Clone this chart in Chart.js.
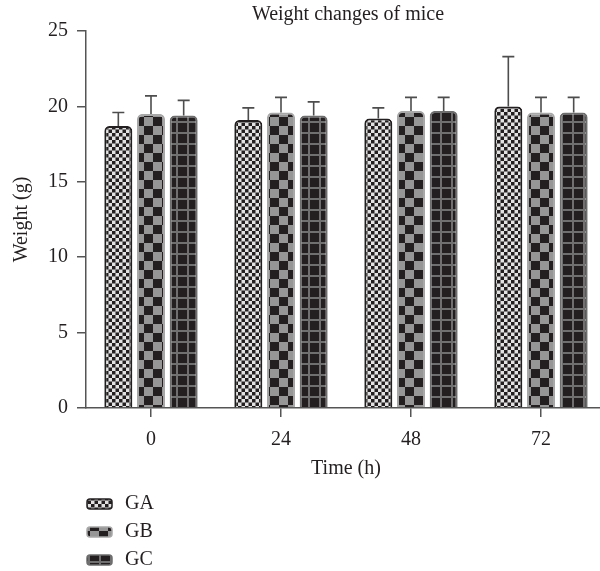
<!DOCTYPE html>
<html>
<head>
<meta charset="utf-8">
<title>Weight changes of mice</title>
<script src="https://cdn.jsdelivr.net/npm/chart.js@4/dist/chart.umd.min.js"></script>
<style>
  html, body { margin: 0; padding: 0; background: #fff; overflow: hidden; }
  /* the original plot is cut off at the right edge, so the canvas is a bit wider than the page */
  #wrap { width: 600px; height: 571px; overflow: hidden; }
</style>
</head>
<body>
<div id="wrap"><canvas id="weightChart" width="606" height="571"></canvas></div>
<script>
// values
var timeLabels = ['0', '24', '48', '72'];
var groupNames = ['GA', 'GB', 'GC'];
var gaMean = [18.7, 19.1, 19.2, 20.0];
var gbMean = [19.5, 19.6, 19.7, 19.6];
var gcMean = [19.4, 19.4, 19.7, 19.6];
// upper error (SD) on top of the mean
var gaErr = [0.9, 0.8, 0.7, 3.3];
var gbErr = [1.2, 1.0, 0.9, 1.0];
var gcErr = [1.0, 0.9, 0.9, 1.0];
var yTicks = [0, 5, 10, 15, 20, 25];

var FONT = '"Liberation Serif", "Times New Roman", serif';
var INK = '#231f20';

function makePattern(kind) {
    var c = document.createElement('canvas');
    var g = c.getContext('2d');
    if (kind === 'GA') {
        c.width = 7; c.height = 7;
        g.fillStyle = '#e2e2e2';
        g.fillRect(0, 0, 7, 7);
        g.fillStyle = INK;
        g.fillRect(0, 0, 3.5, 3.5);
        g.fillRect(3.5, 3.5, 3.5, 3.5);
    } else if (kind === 'GB') {
        c.width = 18; c.height = 18;
        g.fillStyle = '#969696';
        g.fillRect(0, 0, 18, 18);
        g.fillStyle = INK;
        g.fillRect(0, 0, 9, 9);
        g.fillRect(9, 9, 9, 9);
    } else {
        c.width = 11; c.height = 11;
        g.fillStyle = INK;
        g.fillRect(0, 0, 11, 11);
        g.fillStyle = '#707070';
        g.fillRect(0, 0, 11, 2);
        g.fillRect(0, 0, 2, 11);
    }
    return document.createElement('canvas').getContext('2d').createPattern(c, 'repeat');
}

var patterns = { GA: makePattern('GA'), GB: makePattern('GB'), GC: makePattern('GC') };
var borders = { GA: INK, GB: '#a8a8a8', GC: '#6e6e6e' };
var errs = [gaErr, gbErr, gcErr];

// error bars (upper only) + title + legend
var extras = {
    id: 'extras',
    afterDatasetsDraw: function(chart) {
        var ctx = chart.ctx;
        var y = chart.scales.y;
        ctx.save();
        ctx.strokeStyle = '#4d4d4d';
        ctx.lineWidth = 1.6;
        chart.data.datasets.forEach(function(ds, i) {
            var meta = chart.getDatasetMeta(i);
            meta.data.forEach(function(bar, j) {
                var top = y.getPixelForValue(ds.data[j] + errs[i][j]);
                ctx.beginPath();
                ctx.moveTo(bar.x, bar.y);
                ctx.lineTo(bar.x, top);
                ctx.moveTo(bar.x - 6, top);
                ctx.lineTo(bar.x + 6, top);
                ctx.stroke();
            });
        });
        ctx.restore();
    },
    afterDraw: function(chart) {
        var ctx = chart.ctx;
        ctx.save();
        ctx.fillStyle = INK;
        ctx.font = '20px ' + FONT;
        ctx.textAlign = 'center';
        ctx.textBaseline = 'middle';
        ctx.fillText('Weight changes of mice', 348, 15);

        var rows = [504, 532, 560];
        groupNames.forEach(function(name, i) {
            ctx.beginPath();
            ctx.roundRect(87, rows[i] - 5, 25, 10, 3);
            ctx.fillStyle = patterns[name];
            ctx.fill();
            ctx.lineWidth = 1.5;
            ctx.strokeStyle = borders[name];
            ctx.stroke();
            ctx.fillStyle = INK;
            ctx.textAlign = 'left';
            ctx.fillText(name, 125, rows[i]);
        });
        ctx.restore();
    }
};

var ctx = document.getElementById('weightChart');

var chart = new Chart(ctx, {
    type: 'bar',
    data: {
        labels: timeLabels,
        datasets: [
            { label: 'GA', data: gaMean, backgroundColor: patterns.GA, borderColor: borders.GA, borderWidth: 2 },
            { label: 'GB', data: gbMean, backgroundColor: patterns.GB, borderColor: borders.GB, borderWidth: 2 },
            { label: 'GC', data: gcMean, backgroundColor: patterns.GC, borderColor: borders.GC, borderWidth: 2 }
        ]
    },
    options: {
        responsive: false,
        animation: false,
        events: [],
        categoryPercentage: 0.754,
        barPercentage: 0.857,
        borderRadius: 5,
        borderSkipped: 'start',
        layout: { padding: { top: 31, right: 0, bottom: 90, left: 0 } },
        plugins: {
            legend: { display: false },
            tooltip: { enabled: false },
            title: { display: false }
        },
        scales: {
            x: {
                afterFit: function(s) { s.height = 73; },
                grid: { offset: false, drawOnChartArea: false, drawTicks: true, tickLength: 9, color: '#555', lineWidth: 1.5 },
                border: { display: true, color: '#555', width: 1.5 },
                ticks: { color: INK, padding: 11, font: { family: FONT, size: 20 } },
                title: { display: true, text: 'Time (h)', color: INK, padding: { top: 0, bottom: 0 }, font: { family: FONT, size: 20 } }
            },
            y: {
                min: 0,
                max: 25,
                afterFit: function(s) { s.width = 86; },
                afterBuildTicks: function(s) { s.ticks = yTicks.map(function(v) { return { value: v }; }); },
                grid: { drawOnChartArea: false, drawTicks: true, tickLength: 9, color: '#555', lineWidth: 1.5 },
                border: { display: true, color: '#555', width: 1.5 },
                ticks: { color: INK, padding: 9, font: { family: FONT, size: 20 } },
                title: { display: true, text: 'Weight (g)', color: INK, padding: { top: 10, bottom: 0 }, font: { family: FONT, size: 20 } }
            }
        }
    },
    plugins: [extras]
});
</script>
</body>
</html>
